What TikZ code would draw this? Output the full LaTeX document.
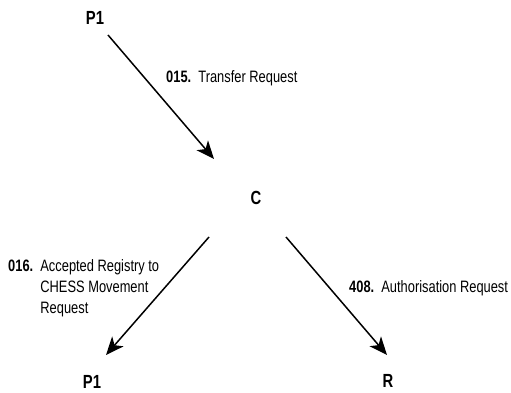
\documentclass[tikz,border=0pt]{standalone}
\usepackage{fontspec}
\setmainfont{Liberation Sans}
\newfontfamily\narrowfont{Liberation Sans}[FakeStretch=0.78]
\usetikzlibrary{arrows.meta}
\begin{document}
\begin{tikzpicture}[x=1pt,y=-1pt,
  party/.style={font=\narrowfont\fontsize{19}{21}\selectfont\bfseries, inner sep=0pt},
  msg/.style={font=\narrowfont\fontsize{16.5}{21}\selectfont, inner sep=0pt, align=left},
  flow/.style={line width=1.5pt, -{Stealth[length=18pt,width=15pt,inset=5pt]}}]
\useasboundingbox (0,0) rectangle (511,393);
\node[party] (p1top) at (95,18) {P1};
\node[party] (c) at (256,198) {C};
\node[party] (p1bot) at (92,382) {P1};
\node[party] (r) at (388,381) {R};
\coordinate (a1s) at (108,35);
\coordinate (a1e) at (214,159);
\coordinate (a2s) at (209,237);
\coordinate (a2e) at (106,355);
\coordinate (a3s) at (286,237);
\coordinate (a3e) at (387,355);
\draw[flow] (a1s) -- (a1e);
\draw[flow] (a2s) -- (a2e);
\draw[flow] (a3s) -- (a3e);
\node[msg, anchor=west] (l1) at (166,78) {\textbf{015.}\ \ Transfer Request};
\node[msg, anchor=north west] (l2) at (8,257) {\begin{tabular}{@{}l@{\ \ }l@{}}\textbf{016.} & Accepted Registry to\\ & CHESS Movement\\ & Request\end{tabular}};
\node[msg, anchor=west] (l3) at (349,288) {\textbf{408.}\ \ Authorisation Request};
\end{tikzpicture}
\end{document}
